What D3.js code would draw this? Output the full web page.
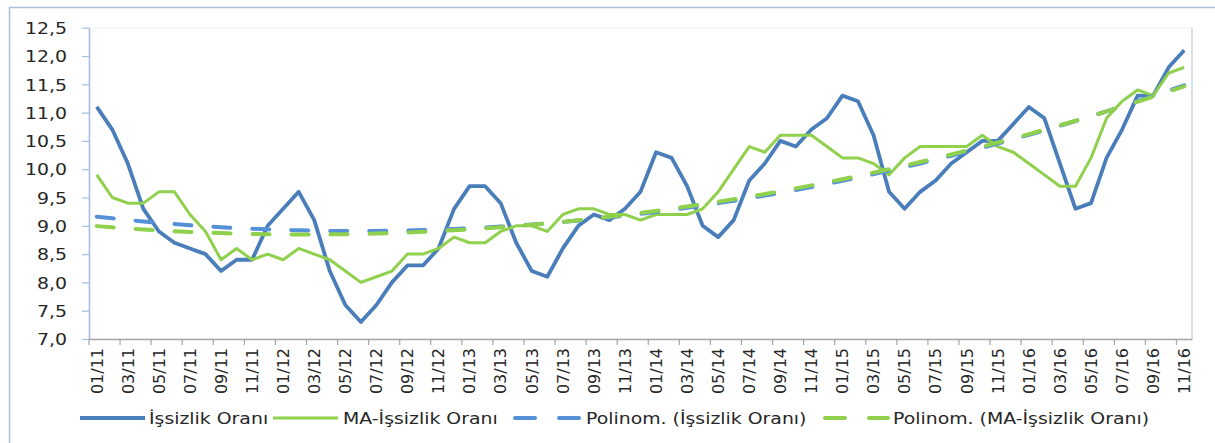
<!DOCTYPE html>
<html>
<head>
<meta charset="utf-8">
<script src="https://cdn.jsdelivr.net/npm/d3@7/dist/d3.min.js"></script>
<style>
  body { margin: 0; background: #fff; }
  svg { display: block; }
  text { font-family: "DejaVu Sans", sans-serif; fill: #262626; }
</style>
</head>
<body>
<svg id="chart" width="1215" height="443"></svg>
<script>
// months on the category axis
const months = [
  '01/11','02/11','03/11','04/11','05/11','06/11','07/11','08/11','09/11','10/11','11/11','12/11',
  '01/12','02/12','03/12','04/12','05/12','06/12','07/12','08/12','09/12','10/12','11/12','12/12',
  '01/13','02/13','03/13','04/13','05/13','06/13','07/13','08/13','09/13','10/13','11/13','12/13',
  '01/14','02/14','03/14','04/14','05/14','06/14','07/14','08/14','09/14','10/14','11/14','12/14',
  '01/15','02/15','03/15','04/15','05/15','06/15','07/15','08/15','09/15','10/15','11/15','12/15',
  '01/16','02/16','03/16','04/16','05/16','06/16','07/16','08/16','09/16','10/16','11/16'
];

// İşsizlik Oranı
const unemployment = [
  11.1, 10.7, 10.1, 9.3, 8.9, 8.7, 8.6, 8.5, 8.2, 8.4, 8.4, 9.0,
  9.3, 9.6, 9.1, 8.2, 7.6, 7.3, 7.6, 8.0, 8.3, 8.3, 8.6, 9.3,
  9.7, 9.7, 9.4, 8.7, 8.2, 8.1, 8.6, 9.0, 9.2, 9.1, 9.3, 9.6,
  10.3, 10.2, 9.7, 9.0, 8.8, 9.1, 9.8, 10.1, 10.5, 10.4, 10.7, 10.9,
  11.3, 11.2, 10.6, 9.6, 9.3, 9.6, 9.8, 10.1, 10.3, 10.5, 10.5, 10.8,
  11.1, 10.9, 10.1, 9.3, 9.4, 10.2, 10.7, 11.3, 11.3, 11.8, 12.1
];

// MA-İşsizlik Oranı
const unemploymentMA = [
  9.9, 9.5, 9.4, 9.4, 9.6, 9.6, 9.2, 8.9, 8.4, 8.6, 8.4, 8.5,
  8.4, 8.6, 8.5, 8.4, 8.2, 8.0, 8.1, 8.2, 8.5, 8.5, 8.6, 8.8,
  8.7, 8.7, 8.9, 9.0, 9.0, 8.9, 9.2, 9.3, 9.3, 9.2, 9.2, 9.1,
  9.2, 9.2, 9.2, 9.3, 9.6, 10.0, 10.4, 10.3, 10.6, 10.6, 10.6, 10.4,
  10.2, 10.2, 10.1, 9.9, 10.2, 10.4, 10.4, 10.4, 10.4, 10.6, 10.4, 10.3,
  10.1, 9.9, 9.7, 9.7, 10.2, 10.9, 11.2, 11.4, 11.3, 11.7, 11.8
];

const yTicks = [7, 7.5, 8, 8.5, 9, 9.5, 10, 10.5, 11, 11.5, 12, 12.5];
const seriesNames = ['İşsizlik Oranı', 'MA-İşsizlik Oranı', 'Polinom. (İşsizlik Oranı)', 'Polinom. (MA-İşsizlik Oranı)'];

// 2nd order least squares trend (the excel "Polinom." trendline)
function polyTrend(vals) {
  const S = [0, 0, 0, 0, 0], T = [0, 0, 0];
  vals.forEach((v, i) => {
    const t = i + 1;
    for (let k = 0; k < 5; k++) S[k] += Math.pow(t, k);
    for (let k = 0; k < 3; k++) T[k] += v * Math.pow(t, k);
  });
  const A = [[S[0], S[1], S[2], T[0]], [S[1], S[2], S[3], T[1]], [S[2], S[3], S[4], T[2]]];
  for (let c = 0; c < 3; c++) {
    for (let r = c + 1; r < 3; r++) {
      const f = A[r][c] / A[c][c];
      for (let k = c; k < 4; k++) A[r][k] -= f * A[c][k];
    }
  }
  const b = [0, 0, 0];
  for (let r = 2; r >= 0; r--) {
    let s = A[r][3];
    for (let k = r + 1; k < 3; k++) s -= A[r][k] * b[k];
    b[r] = s / A[r][r];
  }
  return vals.map((v, i) => b[0] + b[1] * (i + 1) + b[2] * (i + 1) * (i + 1));
}

const trendA = polyTrend(unemployment);
const trendB = polyTrend(unemploymentMA);

const svg = d3.select('#chart');
const plotL = 89, plotR = 1192, plotT = 27.7, plotB = 339;
const sx = 1.18; // text in the picture is a bit stretched sideways

const x = d3.scaleBand().domain(months).range([plotL, plotR]).padding(0);
const cx = d => x(d) + x.bandwidth() / 2;
const y = d3.scaleLinear().domain([7, 12.5]).range([plotB, plotT]);
const fmt = d3.formatLocale({ decimal: ',', thousands: '.', grouping: [3], currency: ['', ''] }).format('.1f');

// outer chart frame (only top and left are in view)
svg.append('path')
  .attr('d', 'M9.5,443 V7.5 H1215')
  .attr('fill', 'none')
  .attr('stroke', '#a9c0e4')
  .attr('stroke-width', 1.5);

// plot area border, very faint
svg.append('rect')
  .attr('x', plotL).attr('y', plotT)
  .attr('width', plotR - plotL).attr('height', plotB - plotT)
  .attr('fill', 'none')
  .attr('stroke', '#eef2f8');
svg.append('line')
  .attr('x1', plotR).attr('x2', plotR)
  .attr('y1', plotT).attr('y2', plotB)
  .attr('stroke', '#d5dfee').attr('stroke-width', 2);

// y axis
const yAxis = svg.append('g')
  .attr('transform', 'translate(' + plotL + ',0)')
  .call(d3.axisLeft(y).tickValues(yTicks).tickFormat(fmt).tickSize(7).tickSizeOuter(0));
yAxis.select('.domain').attr('stroke', '#a3bde3').attr('stroke-width', 1.5);
yAxis.selectAll('.tick line').attr('stroke', '#a3bde3').attr('stroke-width', 1.2);
yAxis.selectAll('.tick text')
  .attr('x', -22 / sx)
  .attr('dy', '0.36em')
  .attr('transform', 'scale(' + sx + ',1)')
  .style('font-size', '16px')
  .style('font-family', '"DejaVu Sans", sans-serif')
  .attr('fill', '#262626');

// x axis: labels every 2nd month, ticks on the category edges
const xAxis = svg.append('g')
  .attr('transform', 'translate(0,' + plotB + ')')
  .call(d3.axisBottom(x).tickValues(months.filter((d, i) => i % 2 === 0)).tickSize(0).tickSizeOuter(0));
xAxis.select('.domain').attr('stroke', '#a6a6a6').attr('stroke-width', 1.5);
xAxis.selectAll('.tick text')
  .attr('transform', 'rotate(-90)')
  .attr('x', -9)
  .attr('y', 0)
  .attr('dy', '0.36em')
  .style('text-anchor', 'end')
  .style('font-size', '16px')
  .style('font-family', '"DejaVu Sans", sans-serif')
  .attr('fill', '#262626');
xAxis.selectAll('.edge')
  .data(months.filter((d, i) => i % 2 === 0))
  .enter().append('line')
  .attr('class', 'edge')
  .attr('x1', d => x(d)).attr('x2', d => x(d))
  .attr('y1', 0).attr('y2', 6)
  .attr('stroke', '#a6a6a6').attr('stroke-width', 1.2);

// series
const line = d3.line().x((d, i) => cx(months[i])).y(d => y(d));

svg.append('path').datum(unemployment)
  .attr('d', line).attr('fill', 'none')
  .attr('stroke', '#4a7ebb').attr('stroke-width', 3.8).attr('stroke-linejoin', 'round');

svg.append('path').datum(unemploymentMA)
  .attr('d', line).attr('fill', 'none')
  .attr('stroke', '#8fd04c').attr('stroke-width', 3).attr('stroke-linejoin', 'round');

svg.append('path').datum(trendA)
  .attr('d', line).attr('fill', 'none')
  .attr('stroke', '#5590d8').attr('stroke-width', 4)
  .attr('stroke-dasharray', '17,22').attr('stroke-linecap', 'round');

svg.append('path').datum(trendB)
  .attr('d', line).attr('fill', 'none')
  .attr('stroke', '#8fd04c').attr('stroke-width', 4)
  .attr('stroke-dasharray', '17,22').attr('stroke-linecap', 'round');

// legend
const legendY = 418;
const legendItems = [
  { name: seriesNames[0], color: '#4a7ebb', w: 3.8, dash: null, x1: 80, x2: 145, tx: 149 },
  { name: seriesNames[1], color: '#8fd04c', w: 3, dash: null, x1: 273, x2: 338, tx: 343 },
  { name: seriesNames[2], color: '#5590d8', w: 4, dash: '20,24', x1: 515, x2: 580, tx: 586 },
  { name: seriesNames[3], color: '#8fd04c', w: 4, dash: '20,24', x1: 825, x2: 888, tx: 893 }
];
const legend = svg.append('g');
legendItems.forEach(it => {
  legend.append('line')
    .attr('x1', it.x1).attr('x2', it.x2)
    .attr('y1', legendY).attr('y2', legendY)
    .attr('stroke', it.color).attr('stroke-width', it.w)
    .attr('stroke-dasharray', it.dash)
    .attr('stroke-linecap', it.dash ? 'round' : 'butt');
  legend.append('text')
    .attr('transform', 'translate(' + it.tx + ',' + legendY + ') scale(' + sx + ',1)')
    .attr('dy', '0.36em')
    .style('font-size', '16px')
    .text(it.name);
});
</script>
</body>
</html>
